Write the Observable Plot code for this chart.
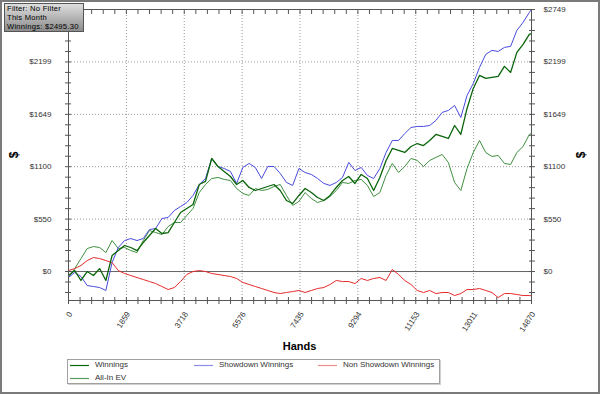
<!DOCTYPE html>
<html><head><meta charset="utf-8">
<script src="https://cdn.jsdelivr.net/npm/d3@7"></script>
<script src="https://cdn.jsdelivr.net/npm/@observablehq/plot@0.6"></script>
<style>
body{margin:0;background:#fff;}
#wrap{position:relative;width:600px;height:394px;overflow:hidden;font-family:"Liberation Sans",Arial,sans-serif;background:#fff;}
#chart{position:absolute;left:0;top:0;}
#frame{position:absolute;left:0;top:0;width:600px;height:394px;box-sizing:border-box;border:2px solid #7a7a7a;pointer-events:none;}
#filter{position:absolute;left:4px;top:3px;width:80px;height:29px;box-sizing:border-box;border:1px solid #555;background:linear-gradient(#dedede,#8c8c8c);font-size:7.6px;letter-spacing:0.25px;padding:0 0 0 2px;color:#000;white-space:nowrap;}
#filter div{height:9px;line-height:9px;}
.ttl{position:absolute;font-weight:bold;color:#000;}
#legend{position:absolute;left:67px;top:359px;width:373px;height:25px;box-sizing:border-box;border:1px solid #a0a0a0;box-shadow:1px 1px 0 #d0d0d0;}
#legsvg{position:absolute;left:0;top:0;}
.lt{position:absolute;font-size:8px;color:#333;line-height:10px;white-space:nowrap;}
</style></head>
<body>
<div id="wrap">
  <div id="chart"></div>
  <div class="ttl" style="left:11px;top:148px;font-size:12px;transform:rotate(-90deg);">$</div>
  <div class="ttl" style="left:578px;top:148px;font-size:12px;transform:rotate(-90deg);">$</div>
  <div class="ttl" style="left:0;width:599px;text-align:center;top:340px;font-size:11px;">Hands</div>
  <div id="legend"></div>
  <svg id="legsvg" width="600" height="394"></svg>
  <div id="filter"></div>
  <div id="frame"></div>
</div>
<script>
// ---- data ----
const hands = [0,200,400,600,800,1000,1200,1400,1600,1800,2000,2200,2400,2600,2800,3000,3200,3400,3600,3800,4000,4200,4400,4600,4800,5000,5200,5400,5600,5800,6000,6200,6400,6600,6800,7000,7200,7400,7600,7800,8000,8200,8400,8600,8800,9000,9200,9400,9600,9800,10000,10200,10400,10600,10800,11000,11200,11400,11600,11800,12000,12200,12400,12600,12800,13000,13200,13400,13600,13800,14000,14200,14400,14600,14800,14870];
const winnings = [-42,10,-94,0,-42,31,-94,168,220,273,252,220,304,378,451,399,409,514,619,661,703,913,945,1186,1102,1050,997,913,955,882,850,871,892,913,850,745,714,798,871,829,777,745,798,882,955,997,924,1018,976,850,987,1165,1291,1270,1249,1312,1343,1322,1375,1438,1417,1396,1532,1438,1711,1921,2057,2026,2036,2047,2152,2089,2299,2383,2488,2495.3];
const showdownWinnings = [-63,-10,-52,-147,-157,-168,-199,94,252,325,346,325,346,441,451,556,567,640,682,724,798,913,976,1186,1102,1081,1050,924,1092,1134,1092,976,1102,1102,1029,934,903,1081,1039,1018,976,924,903,934,987,1144,1060,1092,1008,976,1081,1249,1375,1375,1448,1511,1522,1522,1532,1585,1669,1690,1742,1616,1847,1973,2141,2278,2320,2309,2351,2362,2530,2614,2718,2749];
const nonShowdownWinnings = [10,31,63,115,147,136,115,94,10,-21,-42,-63,-84,-105,-126,-157,-189,-168,-105,-31,0,10,0,-21,-31,-42,-52,-73,-115,-136,-157,-178,-199,-220,-231,-220,-210,-199,-220,-199,-178,-168,-136,-94,-105,-105,-126,-73,-94,-73,-63,-94,21,-31,-94,-136,-199,-220,-199,-231,-220,-220,-252,-231,-189,-189,-178,-199,-220,-273,-231,-231,-241,-252,-252,-254];
const allInEV = [-63,31,136,241,262,252,199,325,241,252,220,199,325,430,409,388,472,514,514,588,661,829,913,976,987,966,955,871,819,798,871,850,861,892,913,798,693,735,829,766,724,745,787,850,934,924,955,966,903,787,829,1008,1134,1039,1102,1186,1165,1102,1165,1197,1228,1144,934,850,1081,1249,1375,1249,1207,1218,1134,1123,1249,1312,1438,1449];

const xTicks = [0,1859,3718,5576,7435,9294,11153,13011,14870];
const yTicks = [0,550,1100,1649,2199,2749];
const yMin = -304;

const seriesNames = ["Winnings","Showdown Winnings","Non Showdown Winnings","All-In EV"];
const seriesColors = ["#0a640a","#4a4ade","#e62a2a","#3f8f3f"];
const legendColors = ["#0a6a0a","#8c8ce8","#ee8c8c","#5c9c5c"];
const filterLines = ["Filter: No Filter","This Month","Winnings: $2495.30"];

// ---- build ----
const rows = hands.map((h,i)=>({hands:h, winnings:winnings[i], showdown:showdownWinnings[i], nonShowdown:nonShowdownWinnings[i], ev:allInEV[i]}));

function subdivide(t,n){const o=[];for(let i=0;i<t.length-1;i++){for(let j=0;j<n;j++)o.push(t[i]+(t[i+1]-t[i])*j/n);}o.push(t[t.length-1]);return o;}
const xMinor = subdivide(xTicks,5);
const yStep = (yTicks[1]-yTicks[0])/5;
const yMinor = [-2*yStep,-yStep].concat(subdivide(yTicks,5)).filter(v=>v>=yMin);
// the top-left label sits under the filter box in the reference, so it is not shown on the left
const yLeftLabels = yTicks.slice(0,-1);

const chart = Plot.plot({
  width:600, height:394,
  marginLeft:68, marginRight:69, marginTop:9, marginBottom:94,
  x:{domain:[0,14870], label:null},
  y:{domain:[yMin,2749], label:null},
  style:{fontFamily:"'Liberation Sans', Arial, sans-serif", fontSize:"8px", color:"#333", background:"transparent", overflow:"visible"},
  marks:[
    Plot.gridX(xTicks.slice(1,-1),{stroke:"#999",strokeOpacity:1,strokeDasharray:"1,2"}),
    Plot.gridY(yTicks.slice(1,-1),{stroke:"#999",strokeOpacity:1,strokeDasharray:"1,2"}),
    Plot.ruleY([0],{stroke:"#666"}),
    Plot.line(rows,{x:"hands",y:"ev",stroke:seriesColors[3],strokeWidth:1}),
    Plot.line(rows,{x:"hands",y:"showdown",stroke:seriesColors[1],strokeWidth:1}),
    Plot.line(rows,{x:"hands",y:"nonShowdown",stroke:seriesColors[2],strokeWidth:1}),
    Plot.line(rows,{x:"hands",y:"winnings",stroke:seriesColors[0],strokeWidth:1.3}),
    Plot.frame({stroke:"#555"}),
    Plot.axisY(yMinor,{anchor:"left",tickSize:6,dx:3,tickFormat:()=>"",stroke:"#555",label:null}),
    Plot.axisY(yMinor,{anchor:"right",tickSize:6,dx:-3,tickFormat:()=>"",stroke:"#555",label:null}),
    Plot.axisY(yLeftLabels,{anchor:"left",tickSize:0,tickPadding:17,tickFormat:d=>"$"+d,label:null}),
    Plot.axisY(yTicks,{anchor:"right",tickSize:0,tickPadding:12,tickFormat:d=>"$"+d,label:null}),
    Plot.axisX(xMinor,{anchor:"bottom",tickSize:7,dy:-3,tickFormat:()=>"",stroke:"#555",label:null}),
    Plot.axisX(xMinor,{anchor:"top",tickSize:4,dy:4,tickFormat:()=>"",stroke:"#555",label:null}),
    Plot.axisX(xTicks,{anchor:"bottom",tickSize:0,tickPadding:12,tickRotate:-57,textAnchor:"end",dx:2,tickFormat:d=>String(d),label:null})
  ]
});
document.getElementById("chart").appendChild(chart);

// filter box
document.getElementById("filter").innerHTML = filterLines.map(t=>`<div>${t}</div>`).join("");

// legend
const legendPos = [[70,365.5,95],[194,365.5,219],[318,365.5,343],[70,378.5,95]];
const wrap = document.getElementById("wrap");
const before = document.getElementById("filter");
const leg = d3.select("#legsvg");
seriesNames.forEach((name,i)=>{
  const [sx,sy,tx] = legendPos[i];
  leg.append("line").attr("x1",sx).attr("x2",sx+19).attr("y1",sy).attr("y2",sy)
     .attr("stroke",legendColors[i]).attr("stroke-width",1.2);
  const t = document.createElement("div");
  t.className="lt"; t.style.left=tx+"px"; t.style.top=(sy-5.5)+"px"; t.textContent=name;
  wrap.insertBefore(t, before);
});
</script>
</body></html>
